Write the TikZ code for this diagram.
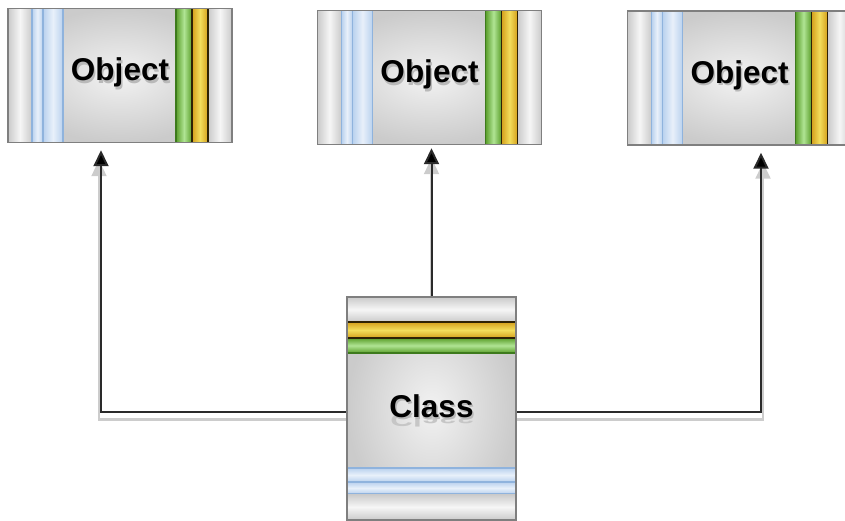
\documentclass[tikz,border=0pt]{standalone}
\usepackage{fontspec}
\setmainfont{Liberation Sans}
\usepackage{graphicx}
\usetikzlibrary{arrows.meta,calc}
\pgfdeclarelayer{background}
\pgfsetlayers{background,main}
\definecolor{blueS}{HTML}{B9D1EE}
\definecolor{blueL}{HTML}{E8F0FA}
\definecolor{blueE}{HTML}{8FB3DD}
\definecolor{greenS}{HTML}{5A9E2A}
\definecolor{greenL}{HTML}{B0E494}
\definecolor{greenE}{HTML}{3D7A1C}
\definecolor{yellowS}{HTML}{D4A01C}
\definecolor{yellowL}{HTML}{F3DE5C}
\definecolor{yellowE}{HTML}{2E2204}
\definecolor{endS}{HTML}{CACACA}
\definecolor{endL}{HTML}{F6F6F6}
\definecolor{bodyL}{HTML}{F2F2F2}
\definecolor{bodyS}{HTML}{CBCBCB}
\definecolor{boxedge}{HTML}{7F7F7F}
\definecolor{linec}{HTML}{2A2A2A}
\newcommand\shtext[1]{\rlap{\hspace{1.5pt}\raisebox{-2.5pt}{\textcolor{gray!55}{#1}}}#1}
\newcommand\reftext[1]{\rlap{\hspace{1pt}\raisebox{3pt}{\scalebox{1}[-0.55]{\textcolor{gray!45}{#1}}}}\shtext{#1}}
\tikzset{
  vend/.style={left color=endS, right color=endS, middle color=endL},
  hend/.style={top color=endS, bottom color=endS, middle color=endL},
  bluev/.style={left color=blueS, right color=blueS, middle color=blueL, draw=blueE, line width=1.2pt},
  greenv/.style={left color=greenS, right color=greenS, middle color=greenL, draw=greenE, line width=1.2pt},
  yellowv/.style={left color=yellowS, right color=yellowS, middle color=yellowL, draw=yellowE, line width=1.2pt},
  blueh/.style={top color=blueS, bottom color=blueS, middle color=blueL, draw=blueE, line width=1.2pt},
  greenh/.style={top color=greenS, bottom color=greenS, middle color=greenL, draw=greenE, line width=1.2pt},
  yellowh/.style={top color=yellowS, bottom color=yellowS, middle color=yellowL, draw=yellowE, line width=1.2pt},
  boxbase/.style={draw=boxedge, line width=1.5pt, inner color=bodyL, outer color=bodyS, inner sep=0pt,
    font=\fontsize{31.5pt}{36pt}\selectfont\bfseries},
  objbox/.style={boxbase, minimum width=224pt, minimum height=134pt, text height=22pt, text depth=11pt,
    path picture={
      \coordinate (p) at (path picture bounding box.north west);
      \path[vend] (p) rectangle ++(24,134);
      \path[vend] ($(p)+(200,0)$) rectangle ++(24,134);
      \draw[bluev] ($(p)+(24,-1)$) rectangle ++(11,136);
      \draw[bluev] ($(p)+(35,-1)$) rectangle ++(20,136);
      \draw[greenv] ($(p)+(168,-1)$) rectangle ++(16,136);
      \draw[yellowv] ($(p)+(184,-1)$) rectangle ++(16,136);
    }},
  clsbox/.style={boxbase, minimum width=169pt, minimum height=223pt, text height=25pt, text depth=8pt,
    path picture={
      \coordinate (p) at (path picture bounding box.north west);
      \path[hend] (p) rectangle ++(169,25);
      \draw[greenh] ($(p)+(-1,41)$) rectangle ++(171,15);
      \draw[yellowh] ($(p)+(-1,25)$) rectangle ++(171,16);
      \draw[blueh] ($(p)+(-1,171)$) rectangle ++(171,14);
      \draw[blueh] ($(p)+(-1,185)$) rectangle ++(171,12);
      \path[hend] ($(p)+(0,197)$) rectangle ++(169,26);
    }},
  arr/.style={draw=linec, line width=2pt, -{Triangle[length=16pt,width=15pt,fill=black]}},
  shad/.style={draw=gray!40, line width=2.5pt, -{Triangle[length=16pt,width=15pt]}},
}
\begin{document}
\begin{tikzpicture}[x=1pt,y=-1pt]
\useasboundingbox (0,0) rectangle (845,521);
\node[objbox] (o1) at (120,75.5) {\shtext{Object}};
\node[objbox] (o2) at (429.5,77.5) {\shtext{Object}};
\node[objbox] (o3) at (739.5,78) {\shtext{Object}};
\node[clsbox] (cls) at (431.5,408.5) {\reftext{Class}};
\coordinate (t1) at ($(o1.south)+(-19,7)$);
\coordinate (t2) at ($(cls.north |- o2.south)+(0,3)$);
\coordinate (t3) at ($(o3.south)+(21.5,7)$);
\coordinate (s1) at ($(cls.west)+(0,3.5)$);
\coordinate (s3) at ($(cls.east)+(0,3.5)$);
\begin{pgfonlayer}{background}
\draw[shad] ($(s1)+(0,7.5)$) -| ($(t1)+(-2,10)$);
\draw[shad] ($(cls.north)+(0,8)$) -- ($(t2)+(0,10)$);
\draw[shad] ($(s3)+(0,7.5)$) -| ($(t3)+(2,10)$);
\draw[arr] (s1) -| (t1);
\draw[arr] (cls.north) -- (t2);
\draw[arr] (s3) -| (t3);
\end{pgfonlayer}
\end{tikzpicture}
\end{document}
